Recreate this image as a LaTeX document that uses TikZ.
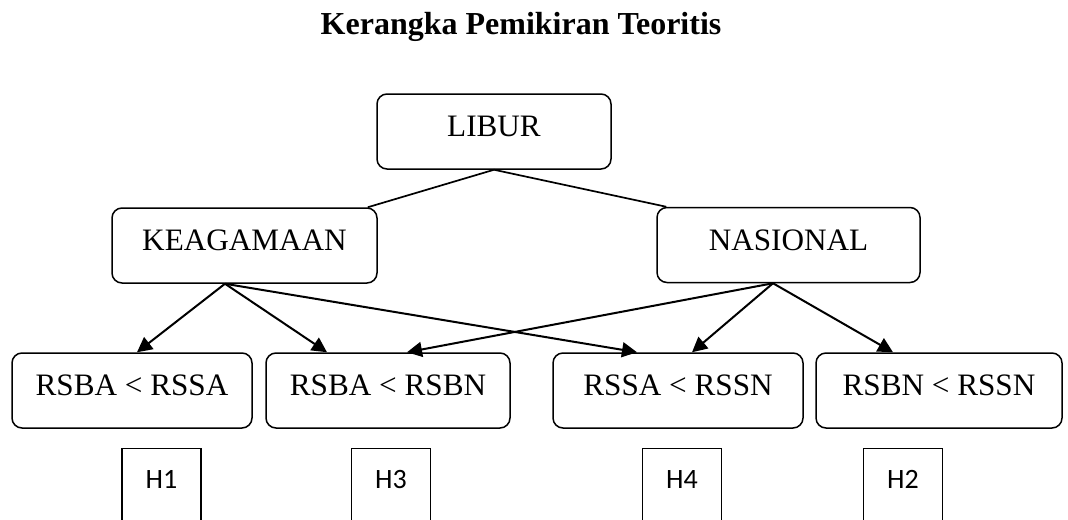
\documentclass[tikz,border=0pt]{standalone}
\usepackage{fontspec}
\setmainfont{Liberation Serif}
\newfontfamily\hfont{Carlito}
\usetikzlibrary{arrows.meta}

\tikzset{
  kotak/.style={draw, line width=0.75pt, rounded corners=5pt, minimum height=37.5pt,
    text height=10.5pt, text depth=5.5pt, font=\fontsize{15.6}{18}\selectfont},
  hkotak/.style={draw, line width=0.6pt, anchor=north, minimum width=39.5pt, minimum height=50pt,
    text height=9pt, text depth=19pt, font=\hfont\fontsize{14}{16}\selectfont},
  panah/.style={-{Triangle[length=7.5pt,width=7.5pt]}, line width=1pt},
  garis/.style={line width=0.85pt}
}

\begin{document}
\begin{tikzpicture}[x=0.5pt, y=-0.5pt]
        % bingkai gambar
        \useasboundingbox (0,0) rectangle (1068,519);
        \clip (0,0) rectangle (1068,519);

        % judul
        \node[anchor=base, font=\bfseries\fontsize{16}{18}\selectfont] (judul) at (521,35) {Kerangka Pemikiran Teoritis};

        % kotak atas dan tengah
        \node[kotak, minimum width=117pt] (libur) at (494,131.5) {LIBUR};
        \node[kotak, minimum width=132.5pt] (agama) at (244.5,245.5) {KEAGAMAAN};
        \node[kotak, minimum width=131.5pt] (nasional) at (788.5,245) {NASIONAL};

        % kotak bawah
        \node[kotak, minimum width=120pt] (rsa) at (132,390.5) {RSBA < RSSA};
        \node[kotak, minimum width=122pt] (rsb) at (388,390.5) {RSBA < RSBN};
        \node[kotak, minimum width=125pt] (rsc) at (678,390.5) {RSSA < RSSN};
        \node[kotak, minimum width=123pt] (rsd) at (939,390.5) {RSBN < RSSN};

        % hipotesis
        \node[hkotak] (h1) at (161.5,448) {H1};
        \node[hkotak] (h3) at (391,448) {H3};
        \node[hkotak] (h4) at (682,448) {H4};
        \node[hkotak] (h2) at (903,448) {H2};

        % garis dari LIBUR
        \draw[garis] (libur.south) -- ([xshift=-5pt]agama.north east);
        \draw[garis] (libur.south) -- ([xshift=5pt]nasional.north west);

        % panah dari KEAGAMAAN
        \coordinate (agamaout) at ([xshift=-9.75pt]agama.south);
        \draw[panah] (agamaout) -- ([xshift=2.5pt]rsa.north);
        \draw[panah] (agamaout) -- ([xshift=-30.5pt]rsb.north);
        \draw[panah] (agamaout) -- ([xshift=-20.5pt]rsc.north);

        % panah dari NASIONAL
        \coordinate (nasout) at ([xshift=-7.75pt]nasional.south);
        \draw[panah] (nasout) -- ([xshift=9.5pt]rsb.north);
        \draw[panah] (nasout) -- ([xshift=7pt]rsc.north);
        \draw[panah] (nasout) -- ([xshift=-23pt]rsd.north);
\end{tikzpicture}
\end{document}
